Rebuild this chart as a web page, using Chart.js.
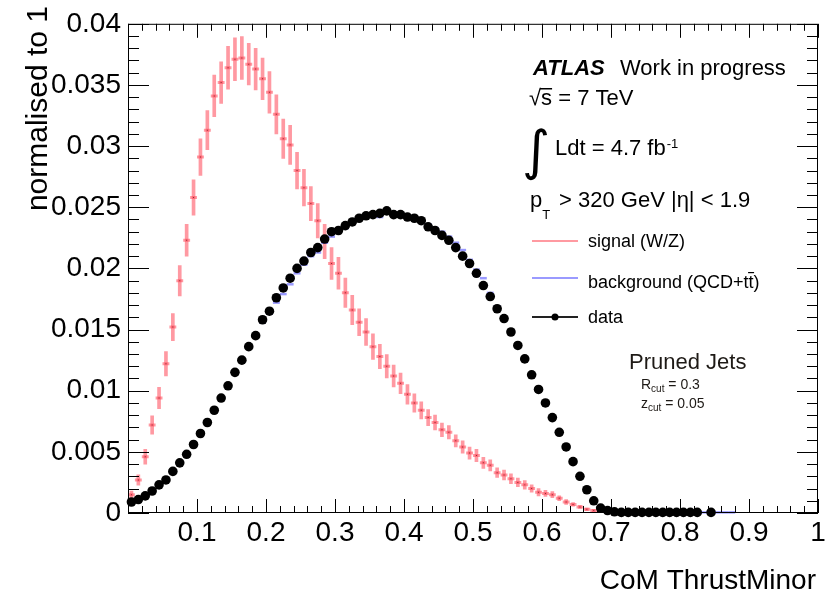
<!DOCTYPE html>
<html>
<head>
<meta charset="utf-8">
<script src="https://cdn.jsdelivr.net/npm/chart.js@4.4.1/dist/chart.umd.min.js"></script>
<style>
html, body { margin: 0; padding: 0; background: #fff; }
canvas { display: block; }
</style>
</head>
<body>
<canvas id="thrustChart" width="830" height="598"></canvas>
<script>
// bin centres of the CoM ThrustMinor histogram (bin width 0.01)
var binCentres = [
    0.005, 0.015, 0.025, 0.035, 0.045, 0.055, 0.065, 0.075, 0.085, 0.095,
    0.105, 0.115, 0.125, 0.135, 0.145, 0.155, 0.165, 0.175, 0.185, 0.195,
    0.205, 0.215, 0.225, 0.235, 0.245, 0.255, 0.265, 0.275, 0.285, 0.295,
    0.305, 0.315, 0.325, 0.335, 0.345, 0.355, 0.365, 0.375, 0.385, 0.395,
    0.405, 0.415, 0.425, 0.435, 0.445, 0.455, 0.465, 0.475, 0.485, 0.495,
    0.505, 0.515, 0.525, 0.535, 0.545, 0.555, 0.565, 0.575, 0.585, 0.595,
    0.605, 0.615, 0.625, 0.635, 0.645, 0.655, 0.665, 0.675, 0.685, 0.695,
    0.705, 0.715, 0.725, 0.735, 0.745, 0.755, 0.765, 0.775, 0.785, 0.795,
    0.805, 0.815, 0.825, 0.835, 0.845, 0.855, 0.865, 0.875
];

// signal (W/Z), normalised, with its vertical errors
var signalValues = [
    0.0015, 0.0027, 0.0046, 0.0072, 0.0094, 0.0122, 0.0152, 0.0190, 0.0223, 0.0258,
    0.0291, 0.0313, 0.0341, 0.0352, 0.0364, 0.0371, 0.0372, 0.0367, 0.0363, 0.0355,
    0.0344, 0.0326, 0.0306, 0.0301, 0.0280, 0.0266, 0.0253, 0.0239, 0.0222, 0.0204,
    0.0196, 0.0180, 0.0166, 0.0156, 0.0148, 0.0136, 0.0128, 0.0120, 0.0112, 0.0106,
    0.0097, 0.0090, 0.0084, 0.0078, 0.0074, 0.0068, 0.0066, 0.0059, 0.0054, 0.0049,
    0.0047, 0.0041, 0.0039, 0.0033, 0.0031, 0.0028, 0.0025, 0.0023, 0.0020, 0.0017,
    0.0016, 0.0015, 0.0012, 0.0009, 0.0007, 0.0005, 0.0003, 0.0002, 0.0001
];
var signalErrors = [
    0.0003, 0.00043, 0.0006, 0.00075, 0.00087, 0.001, 0.0011, 0.00124, 0.0013, 0.00145,
    0.0015, 0.0016, 0.0017, 0.0017, 0.00175, 0.00175, 0.00175, 0.0017, 0.0017, 0.0017,
    0.0017, 0.0016, 0.0016, 0.0016, 0.0015, 0.0015, 0.0014, 0.0014, 0.0014, 0.0013,
    0.0013, 0.0012, 0.0012, 0.0011, 0.0011, 0.00105, 0.001, 0.00095, 0.0009, 0.00085,
    0.0008, 0.00075, 0.0007, 0.00065, 0.0006, 0.00055, 0.00055, 0.0005, 0.0005, 0.0005,
    0.0005, 0.00045, 0.00045, 0.0004, 0.0004, 0.0004, 0.00035, 0.00035, 0.0003, 0.0003,
    0.00025, 0.00025, 0.0002, 0.0002, 0.00015, 0.00012, 0.0001, 0.0001, 0.0001
];

// background (QCD+ttbar)
var backgroundValues = [
    0.0009, 0.0011, 0.0014, 0.0018, 0.0023, 0.0027, 0.0034, 0.0041, 0.0048, 0.0056,
    0.0065, 0.0074, 0.0084, 0.0094, 0.0104, 0.0114, 0.0124, 0.0135, 0.0144, 0.0156,
    0.0163, 0.0172, 0.0179, 0.0187, 0.0196, 0.0203, 0.0210, 0.0213, 0.0221, 0.0226,
    0.0230, 0.0233, 0.0237, 0.0240, 0.0242, 0.0243, 0.0242, 0.0245, 0.0244, 0.0244,
    0.0243, 0.0242, 0.0240, 0.0236, 0.0233, 0.0230, 0.0226, 0.0221, 0.0215, 0.0207,
    0.0199, 0.0192, 0.0180, 0.0169, 0.0160, 0.0149, 0.0138, 0.0127, 0.0114, 0.0102,
    0.0090, 0.0078, 0.0066, 0.0054, 0.0042, 0.0030, 0.0019, 0.0010, 0.0004, 0.0002,
    0.0001, 0.00005, 0.00005, 0.00005, 0.00005, 0.00005, 0.00005, 0.00005, 0.00005, 0.00005,
    0.00005, 0.00005, 0.00005, 0.00005, 0.00005, 0.00005, 0.00005, 0.00005
];

// data (empty bin = null)
var dataValues = [
    0.0009, 0.0011, 0.0014, 0.0018, 0.0023, 0.0027, 0.0034, 0.0041, 0.0048, 0.0056,
    0.0065, 0.0074, 0.0084, 0.0094, 0.0104, 0.0115, 0.0125, 0.0136, 0.0145, 0.0158,
    0.0165, 0.0176, 0.0184, 0.0192, 0.0200, 0.0206, 0.0213, 0.0217, 0.0224, 0.0230,
    0.0231, 0.0235, 0.0238, 0.0241, 0.0243, 0.0244, 0.0245, 0.0247, 0.0244, 0.0244,
    0.0242, 0.0241, 0.0239, 0.0234, 0.0231, 0.0227, 0.0223, 0.0217, 0.0210, 0.0204,
    0.0196, 0.0186, 0.0177, 0.0167, 0.0159, 0.0148, 0.0137, 0.0126, 0.0113, 0.0101,
    0.0090, 0.0078, 0.0066, 0.0054, 0.0042, 0.0030, 0.0019, 0.0010, 0.0004, 0.0002,
    0.0001, 0.00005, 0.00005, 0.00005, 0.00005, 0.00005, 0.00005, 0.00005, 0.00005, 0.00005,
    0.00005, 0.00005, 0.00005, null, 0.00005
];

// axis ticks
var xTickValues = [0.1, 0.2, 0.3, 0.4, 0.5, 0.6, 0.7, 0.8, 0.9, 1];
var xTickLabels = ["0.1", "0.2", "0.3", "0.4", "0.5", "0.6", "0.7", "0.8", "0.9", "1"];
var yTickValues = [0, 0.005, 0.01, 0.015, 0.02, 0.025, 0.03, 0.035, 0.04];
var yTickLabels = ["0", "0.005", "0.01", "0.015", "0.02", "0.025", "0.03", "0.035", "0.04"];

var FONT = '"Liberation Sans", Arial, Helvetica, sans-serif';
var SIGNAL_COLOR = 'rgba(255, 70, 85, 0.55)';
var BKG_COLOR = 'rgba(110, 110, 255, 0.7)';

function toPoints(values) {
    var pts = [];
    values.forEach(function (v, i) {
        if (v !== null) pts.push({ x: binCentres[i], y: v });
    });
    return pts;
}

var signalBars = signalValues.map(function (v, i) {
    return { x: binCentres[i], y: [Math.max(0, v - signalErrors[i]), v + signalErrors[i]] };
});

// inward ticks on all four sides + frame, ROOT style
var frameTicks = {
    id: 'frameTicks',
    afterDraw: function (chart) {
        var ctx = chart.ctx, a = chart.chartArea, x = chart.scales.x, y = chart.scales.y;
        ctx.save();
        ctx.strokeStyle = '#000';
        ctx.lineWidth = 1;
        ctx.beginPath();
        for (var k = 0; k <= 50; k++) {
            var px = Math.round(x.getPixelForValue(k * 0.02)) + 0.5;
            var len = k % 5 === 0 ? 14 : 7;
            ctx.moveTo(px, a.bottom); ctx.lineTo(px, a.bottom - len);
            ctx.moveTo(px, a.top); ctx.lineTo(px, a.top + len);
        }
        for (var j = 0; j <= 40; j++) {
            var py = Math.round(y.getPixelForValue(j * 0.001)) + 0.5;
            var ylen = j % 5 === 0 ? 21 : 11;
            ctx.moveTo(a.left, py); ctx.lineTo(a.left + ylen, py);
            ctx.moveTo(a.right, py); ctx.lineTo(a.right - ylen, py);
        }
        ctx.stroke();
        ctx.strokeRect(a.left + 0.5, a.top + 0.5, a.width - 1, a.height - 1);
        ctx.restore();
    }
};

// ATLAS label, legend and axis titles
var annotations = {
    id: 'annotations',
    afterDraw: function (chart) {
        var ctx = chart.ctx;
        ctx.save();
        ctx.fillStyle = '#000';
        ctx.textAlign = 'left';
        ctx.textBaseline = 'alphabetic';

        ctx.font = 'italic bold 22px ' + FONT;
        ctx.fillText('ATLAS', 533, 75);
        ctx.font = '22px ' + FONT;
        ctx.fillText('Work in progress', 620, 75);

        // sqrt(s) = 7 TeV
        ctx.fillText('\u221A', 529, 105);
        var rw = ctx.measureText('\u221A').width;
        ctx.fillText('s', 529 + rw, 105);
        var sw = ctx.measureText('s').width;
        ctx.fillRect(529 + rw - 1, 88, sw + 1, 1.5);
        ctx.fillText(' = 7 TeV', 529 + rw + sw, 105);

        // integrated luminosity
        ctx.font = 'italic 54px "DejaVu Sans"';
        ctx.fillText('\u222B', 522, 169);
        ctx.font = '22px ' + FONT;
        ctx.fillText('Ldt = 4.7 fb', 555, 155);
        var lw = ctx.measureText('Ldt = 4.7 fb').width;
        ctx.font = '13px ' + FONT;
        ctx.fillText('-1', 555 + lw + 1, 148);

        // pT and eta cuts
        ctx.font = '22px ' + FONT;
        ctx.fillText('p', 530, 207);
        var pw = ctx.measureText('p').width;
        ctx.font = '13px ' + FONT;
        ctx.fillText('T', 530 + pw, 219);
        ctx.font = '22px ' + FONT;
        ctx.fillText('> 320 GeV |\u03B7| < 1.9', 559, 207);

        // legend
        ctx.lineWidth = 2;
        ctx.strokeStyle = 'rgba(255, 120, 130, 0.75)';
        ctx.beginPath(); ctx.moveTo(532, 241); ctx.lineTo(578, 241); ctx.stroke();
        ctx.strokeStyle = 'rgba(120, 120, 255, 0.75)';
        ctx.beginPath(); ctx.moveTo(532, 278); ctx.lineTo(578, 278); ctx.stroke();
        ctx.strokeStyle = '#222';
        ctx.beginPath(); ctx.moveTo(532, 317); ctx.lineTo(578, 317); ctx.stroke();
        ctx.beginPath(); ctx.arc(555, 317, 3.5, 0, Math.PI * 2); ctx.fill();

        ctx.font = '18px ' + FONT;
        ctx.fillText('signal (W/Z)', 588, 247);
        ctx.fillText('background (QCD+t', 588, 288);
        var bw = ctx.measureText('background (QCD+t').width;
        ctx.fillText('t', 588 + bw, 288);
        var tw = ctx.measureText('t').width;
        ctx.fillRect(588 + bw - 0.5, 272, tw + 1, 1.2);
        ctx.fillText(')', 588 + bw + tw, 288);
        ctx.fillText('data', 588, 323);

        // jet algorithm
        ctx.fillStyle = '#1e1a16';
        ctx.font = '22px ' + FONT;
        ctx.fillText('Pruned Jets', 629, 369);
        ctx.font = '14px ' + FONT;
        ctx.fillText('R', 641, 389);
        var r1 = ctx.measureText('R').width;
        ctx.font = '10px ' + FONT;
        ctx.fillText('cut', 641 + r1, 392);
        var c1 = ctx.measureText('cut').width;
        ctx.font = '14px ' + FONT;
        ctx.fillText(' = 0.3', 641 + r1 + c1, 389);
        ctx.fillText('z', 641, 408);
        var z1 = ctx.measureText('z').width;
        ctx.font = '10px ' + FONT;
        ctx.fillText('cut', 641 + z1, 411);
        ctx.font = '14px ' + FONT;
        ctx.fillText(' = 0.05', 641 + z1 + c1, 408);

        // axis titles
        ctx.fillStyle = '#000';
        ctx.font = '28px ' + FONT;
        ctx.textAlign = 'right';
        ctx.fillText('CoM ThrustMinor', 816, 589);
        ctx.font = '30px ' + FONT;
        ctx.translate(47, 6);
        ctx.rotate(-Math.PI / 2);
        ctx.fillText('normalised to 1', 0, 0);
        ctx.restore();
    }
};

Chart.defaults.font.family = FONT;

var ctxT = document.getElementById("thrustChart").getContext('2d');
var thrustChart = new Chart(ctxT, {
    type: 'scatter',
    data: {
        datasets: [
            {
                label: 'data',
                data: toPoints(dataValues),
                pointStyle: 'circle',
                pointRadius: 4.8,
                pointBackgroundColor: '#000',
                pointBorderWidth: 0,
                clip: false,
                order: 0
            },
            {
                label: 'background (QCD+tt)',
                data: toPoints(backgroundValues),
                pointStyle: 'line',
                pointRadius: 3.45,
                pointBorderWidth: 2.5,
                pointBorderColor: BKG_COLOR,
                clip: false,
                order: 1
            },
            {
                label: 'signal centre',
                data: toPoints(signalValues),
                pointStyle: 'rect',
                pointRadius: 0.7,
                pointBackgroundColor: '#8a2a33',
                pointBorderWidth: 0,
                order: 2
            },
            {
                label: 'signal (W/Z)',
                data: toPoints(signalValues),
                pointStyle: 'line',
                pointRadius: 3.45,
                pointBorderWidth: 3,
                pointBorderColor: SIGNAL_COLOR,
                order: 3
            },
            {
                type: 'bar',
                label: 'signal errors',
                data: signalBars,
                backgroundColor: SIGNAL_COLOR,
                borderWidth: 0,
                barThickness: 3,
                grouped: false,
                order: 4
            }
        ]
    },
    options: {
        responsive: false,
        animation: false,
        events: [],
        layout: { padding: { top: 17, right: 12, left: 0, bottom: 0 } },
        plugins: { legend: { display: false }, tooltip: { enabled: false } },
        scales: {
            x: {
                type: 'linear',
                min: 0,
                max: 1,
                offset: false,
                grid: { display: false, drawTicks: false },
                border: { display: false },
                afterBuildTicks: function (s) {
                    s.ticks = xTickValues.map(function (v) { return { value: v }; });
                },
                afterFit: function (s) { s.height = 85; },
                ticks: {
                    autoSkip: false,
                    maxRotation: 0,
                    padding: 3,
                    color: '#000',
                    font: { size: 28 },
                    callback: function (v, i) { return xTickLabels[i]; }
                }
            },
            y: {
                type: 'linear',
                min: 0,
                max: 0.04,
                grid: { display: false, drawTicks: false },
                border: { display: false },
                afterBuildTicks: function (s) {
                    s.ticks = yTickValues.map(function (v) { return { value: v }; });
                },
                afterFit: function (s) { s.width = 128; },
                ticks: {
                    autoSkip: false,
                    padding: 7,
                    color: '#000',
                    font: { size: 28 },
                    callback: function (v, i) { return yTickLabels[i]; }
                }
            }
        }
    },
    plugins: [frameTicks, annotations]
});
</script>
</body>
</html>
